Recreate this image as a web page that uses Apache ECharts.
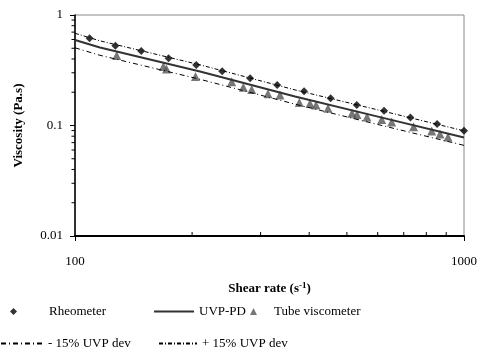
<!DOCTYPE html>
<html>
<head>
<meta charset="utf-8">
<script src="https://cdn.jsdelivr.net/npm/echarts@6/dist/echarts.min.js"></script>
<style>
  html, body { margin: 0; padding: 0; background: #fff; }
  #chart { width: 481px; height: 363px; }
</style>
</head>
<body>
<div id="chart"></div>
<script>
// shear rate (1/s) and viscosity (Pa.s)
const rheoRate = [109, 127, 148, 174, 205, 239, 282, 331, 388, 454, 530, 623, 728, 853, 1000]
const rheoVisc = [0.615, 0.527, 0.472, 0.406, 0.353, 0.309, 0.267, 0.2325, 0.204, 0.176, 0.153, 0.136, 0.118, 0.103, 0.0897]

const tubeRate = [128, 168.7, 171.9, 204.1, 252.8, 270.8, 284.6, 313.4, 336.5, 377.3, 401.9, 416.4, 447.1, 515.3, 530.9, 563.1, 614.3, 651.8, 741.9, 826, 867.6, 909.8]
const tubeVisc = [0.43, 0.342, 0.3245, 0.2776, 0.249, 0.2216, 0.2117, 0.1936, 0.1888, 0.1615, 0.1582, 0.1533, 0.1431, 0.129, 0.1258, 0.1194, 0.1133, 0.1076, 0.0975, 0.0892, 0.0838, 0.0787]

const uvpRate = [100, 115.9, 209.6, 367.8, 608, 1000]
const uvpVisc = [0.594, 0.508, 0.308, 0.183, 0.119, 0.0778]
const uvpPlus = [0.683, 0.584, 0.354, 0.210, 0.137, 0.0895]
const uvpMinus = [0.505, 0.432, 0.262, 0.156, 0.101, 0.0661]

const minorX = [200, 300, 400, 500, 600, 700, 800, 900]
const minorY = [0.02, 0.03, 0.04, 0.05, 0.06, 0.07, 0.08, 0.09, 0.2, 0.3, 0.4, 0.5, 0.6, 0.7, 0.8, 0.9]

const FONT = '"Liberation Serif", "Times New Roman", serif'

const zip = (xs, ys) => xs.map((x, i) => [x, ys[i]])

const legendBase = {
  orient: 'horizontal',
  padding: 0,
  itemHeight: 14,
  selectedMode: false,
  textStyle: { fontFamily: FONT, fontSize: 13, color: '#000' }
}
// marker legends: small icon, then a blank gap before the text
const gapText = w => ({ ...legendBase.textStyle, rich: { g: { width: w } } })
const gapFmt = name => '{g|}' + name

const chart = echarts.init(document.getElementById('chart'))

chart.setOption({
  animation: false,
  grid: {
    left: 75,
    right: 17,
    top: 15,
    bottom: 127,
    show: true,
    borderColor: '#888',
    borderWidth: 1
  },
  xAxis: {
    type: 'log',
    logBase: 10,
    min: 100,
    max: 1000,
    name: 'Shear rate (s{sup|-1})',
    nameLocation: 'middle',
    nameGap: 45,
    nameTextStyle: {
      fontFamily: FONT,
      fontSize: 13,
      fontWeight: 'bold',
      color: '#000',
      rich: {
        sup: { fontFamily: FONT, fontSize: 9, fontWeight: 'bold', color: '#000', verticalAlign: 'top', padding: [0, 0, 7, 0] }
      }
    },
    axisLine: { lineStyle: { color: '#000', width: 2 } },
    axisTick: { length: 5, lineStyle: { color: '#000', width: 1 } },
    axisLabel: { fontFamily: FONT, fontSize: 13, color: '#000', margin: 19, formatter: v => String(Math.round(v)) },
    splitLine: { show: false }
  },
  yAxis: {
    type: 'log',
    logBase: 10,
    min: 0.01,
    max: 1,
    name: 'Viscosity (Pa.s)',
    nameLocation: 'middle',
    nameGap: 50,
    nameTextStyle: { fontFamily: FONT, fontSize: 13, fontWeight: 'bold', color: '#000' },
    axisLine: { lineStyle: { color: '#000', width: 1.5 } },
    axisTick: { length: 5, lineStyle: { color: '#000', width: 1 } },
    axisLabel: {
      fontFamily: FONT, fontSize: 13, color: '#000', margin: 12,
      formatter: v => String(+v.toPrecision(3))
    },
    splitLine: { show: false }
  },
  legend: [
    { ...legendBase, left: 10, top: 305, itemWidth: 7, itemHeight: 7, data: ['Rheometer'],
      textStyle: gapText(27), formatter: gapFmt },
    { ...legendBase, left: 153, top: 305, itemWidth: 40, data: ['UVP-PD'] },
    { ...legendBase, left: 250, top: 305, itemWidth: 7, itemHeight: 7, data: ['Tube viscometer'],
      textStyle: gapText(12), formatter: gapFmt },
    { ...legendBase, left: 0, top: 337, itemWidth: 42, data: ['- 15% UVP dev'] },
    { ...legendBase, left: 158, top: 337, itemWidth: 38, data: ['+ 15% UVP dev'] }
  ],
  series: [
    {
      name: '- 15% UVP dev',
      type: 'line',
      data: zip(uvpRate, uvpMinus),
      symbol: 'none',
      lineStyle: { color: '#000', width: 1, type: [5, 3, 1, 3] },
      itemStyle: { color: '#000', opacity: 0 }
    },
    {
      name: '+ 15% UVP dev',
      type: 'line',
      data: zip(uvpRate, uvpPlus),
      symbol: 'none',
      lineStyle: { color: '#000', width: 1, type: [4, 2, 1, 2] },
      itemStyle: { color: '#000', opacity: 0 }
    },
    {
      name: 'UVP-PD',
      type: 'line',
      data: zip(uvpRate, uvpVisc),
      symbol: 'none',
      lineStyle: { color: '#333', width: 2 },
      itemStyle: { color: '#333', opacity: 0 }
    },
    {
      name: 'Tube viscometer',
      type: 'scatter',
      data: zip(tubeRate, tubeVisc),
      symbol: 'triangle',
      symbolSize: 9,
      itemStyle: { color: '#555' }
    },
    {
      name: 'Rheometer',
      type: 'scatter',
      data: zip(rheoRate, rheoVisc),
      symbol: 'diamond',
      symbolSize: 8,
      itemStyle: { color: '#000' }
    }
  ]
})

// minor ticks: x inward, y outward
const ticks = []
minorX.forEach(v => {
  const p = chart.convertToPixel({ gridIndex: 0 }, [v, 0.01])
  ticks.push({ type: 'line', shape: { x1: p[0], y1: p[1], x2: p[0], y2: p[1] - 4 },
    style: { stroke: '#000', lineWidth: 1 }, z: 10 })
})
minorY.forEach(v => {
  const p = chart.convertToPixel({ gridIndex: 0 }, [100, v])
  ticks.push({ type: 'line', shape: { x1: p[0] - 3.5, y1: p[1], x2: p[0], y2: p[1] },
    style: { stroke: '#000', lineWidth: 1 }, z: 10 })
})
chart.setOption({ graphic: ticks })
</script>
</body>
</html>
